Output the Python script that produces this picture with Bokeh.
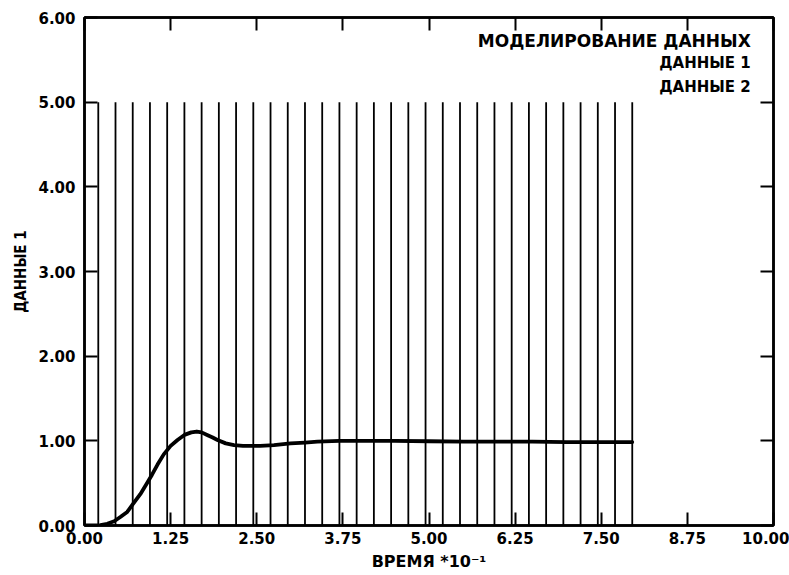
from bokeh.plotting import figure
from bokeh.models import (LinearAxis, FixedTicker, NumeralTickFormatter, Range1d,
                          Label, ColumnDataSource)
from bokeh.embed import file_html
from bokeh.resources import INLINE

# ---- data ----
# ДАННЫЕ 1 : response curve
t1 = [0.0, 0.15, 0.23, 0.33, 0.43, 0.52, 0.62, 0.71, 0.81, 0.90, 0.98, 1.06, 1.15,
      1.25, 1.35, 1.45, 1.55, 1.63, 1.70, 1.78, 1.86, 1.93, 2.05, 2.17, 2.30, 2.41,
      2.55, 2.75, 2.99, 3.20, 3.38, 3.70, 3.96, 4.50, 5.00, 5.50, 6.00, 6.50, 7.00,
      7.50, 7.95]
y1 = [0.0, 0.0, 0.005, 0.02, 0.05, 0.10, 0.16, 0.26, 0.37, 0.49, 0.60, 0.72, 0.84,
      0.94, 1.01, 1.07, 1.10, 1.11, 1.10, 1.07, 1.04, 1.01, 0.97, 0.95, 0.94, 0.94,
      0.94, 0.95, 0.97, 0.98, 0.99, 1.00, 1.00, 1.00, 0.995, 0.99, 0.99, 0.99, 0.985,
      0.985, 0.985]

# ДАННЫЕ 2 : pulse train (pulse times, pulse height)
t2 = [0.20, 0.45, 0.70, 0.95, 1.20, 1.45, 1.70, 1.95, 2.20, 2.45, 2.70, 2.95, 3.20,
      3.45, 3.70, 3.95, 4.20, 4.45, 4.70, 4.95, 5.20, 5.45, 5.70, 5.95, 6.20, 6.45,
      6.70, 6.95, 7.20, 7.45, 7.70, 7.95]
h2 = [5.0] * len(t2)
base2 = [0.0] * len(t2)

x_ticks = [0.0, 1.25, 2.5, 3.75, 5.0, 6.25, 7.5, 8.75, 10.0]
y_ticks = [0.0, 1.0, 2.0, 3.0, 4.0, 5.0, 6.0]

title_lines = ["МОДЕЛИРОВАНИЕ ДАННЫХ", "ДАННЫЕ 1", "ДАННЫЕ 2"]
x_label = "ВРЕМЯ *10\u207b\u00b9"
y_label = "ДАННЫЕ 1"

FONT = "DejaVu Sans"

p = figure(width=789, height=575, output_backend="svg", toolbar_location=None,
           x_range=Range1d(0, 10), y_range=Range1d(0, 6),
           x_axis_location=None, y_axis_location=None)
p.min_border_left = 84
p.min_border_right = 16
p.min_border_top = 17
p.min_border_bottom = 50
p.xgrid.grid_line_color = None
p.ygrid.grid_line_color = None
p.outline_line_color = "black"
p.outline_line_width = 2.5
p.background_fill_color = "white"
p.border_fill_color = "white"

def style_axis(ax, labels):
    ax.axis_line_color = "black"
    ax.axis_line_width = 2.5
    ax.major_tick_in = 13
    ax.major_tick_out = 0
    ax.major_tick_line_width = 2
    ax.minor_tick_line_color = None
    ax.major_label_text_font = FONT
    ax.major_label_text_font_style = "bold"
    ax.major_label_text_font_size = "15px"
    ax.major_label_text_color = "black" if labels else None
    ax.formatter = NumeralTickFormatter(format="0.00")
    ax.axis_label_text_color = "black"
    ax.axis_label_text_font_style = "bold"

xb = LinearAxis(ticker=FixedTicker(ticks=x_ticks))
style_axis(xb, True)
xb.major_label_standoff = 6
xb.axis_label = x_label
xb.axis_label_text_font = FONT
xb.axis_label_text_font_size = "16px"
xb.axis_label_standoff = 5
p.add_layout(xb, "below")

xt = LinearAxis(ticker=FixedTicker(ticks=x_ticks))
style_axis(xt, False)
p.add_layout(xt, "above")

yl = LinearAxis(ticker=FixedTicker(ticks=y_ticks))
style_axis(yl, True)
yl.major_label_standoff = 9
yl.axis_label = y_label
yl.axis_label_text_font = "DejaVu Sans Condensed"
yl.axis_label_text_font_size = "15px"
yl.axis_label_standoff = 5
p.add_layout(yl, "left")

yr = LinearAxis(ticker=FixedTicker(ticks=y_ticks))
style_axis(yr, False)
p.add_layout(yr, "right")

# pulses
src2 = ColumnDataSource(dict(t=t2, h=h2, b=base2))
p.segment(x0="t", y0="b", x1="t", y1="h", source=src2,
          line_color="black", line_width=1.8)

# response curve
src1 = ColumnDataSource(dict(t=t1, y=y1))
p.line("t", "y", source=src1, line_color="black", line_width=3.8,
       line_join="round", line_cap="round")

# legend / title text at top right
for txt, yy, fs in zip(title_lines, [5.72, 5.46, 5.18], ["17px", "15px", "15px"]):
    p.add_layout(Label(x=9.67, y=yy, text=txt, text_align="right",
                       text_baseline="middle", text_font=FONT,
                       text_font_style="bold", text_font_size=fs,
                       text_color="black"))

open("out.html", "w").write(file_html(p, INLINE))
